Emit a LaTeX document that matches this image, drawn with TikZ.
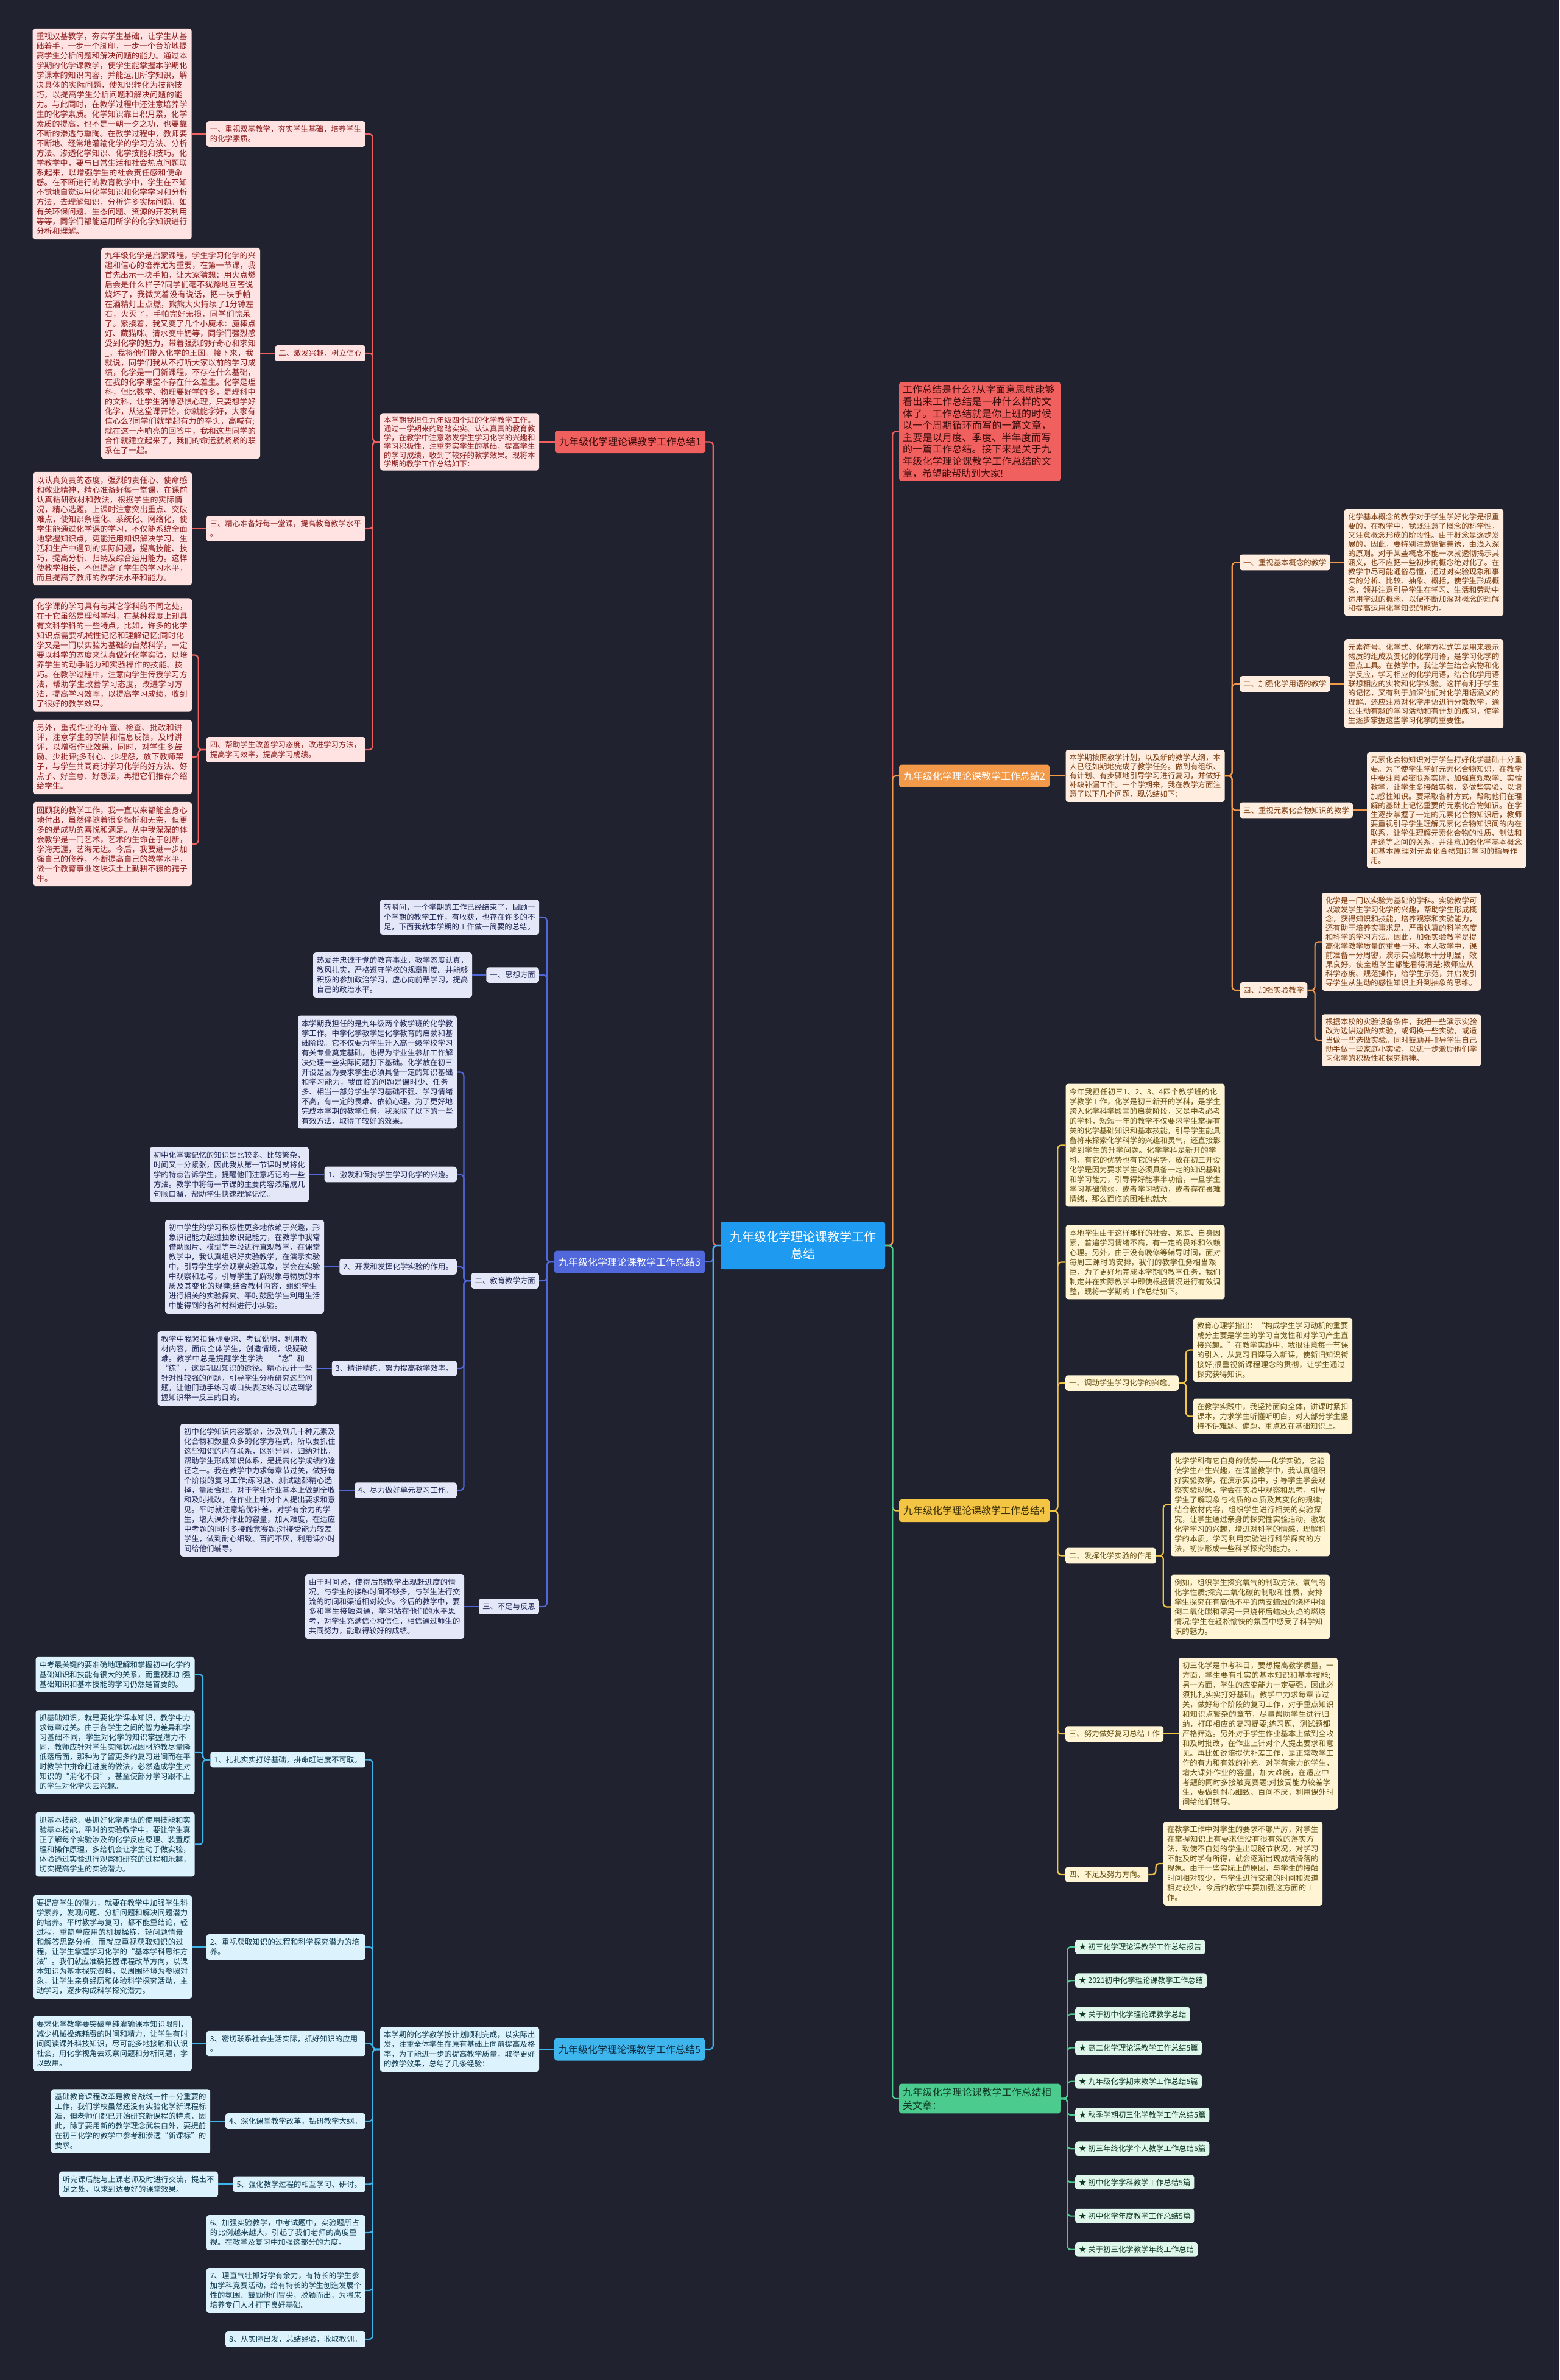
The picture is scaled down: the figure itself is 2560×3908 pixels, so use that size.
\documentclass[tikz,border=0pt]{standalone}
\usepackage{fontspec}
\setmainfont{Noto Sans CJK SC}
\XeTeXlinebreaklocale "zh"
\XeTeXlinebreakskip=0pt plus 1pt
\definecolor{bg}{HTML}{20232F}
\definecolor{rtmain}{HTML}{1E9AF0}
\definecolor{rdmain}{HTML}{F0605E}
\definecolor{rdpale}{HTML}{FFE2E2}
\definecolor{rdink}{HTML}{8C1D1D}
\definecolor{rdtitle}{HTML}{3A0B0B}
\definecolor{ogmain}{HTML}{F29A4A}
\definecolor{ogpale}{HTML}{FFEEDF}
\definecolor{ogink}{HTML}{7A3A0E}
\definecolor{blmain}{HTML}{5068DB}
\definecolor{blpale}{HTML}{E4E7F8}
\definecolor{blueink}{HTML}{1C2452}
\definecolor{yemain}{HTML}{F4C544}
\definecolor{yepale}{HTML}{FFF5D5}
\definecolor{yeink}{HTML}{654F10}
\definecolor{yetitle}{HTML}{3A2E05}
\definecolor{cymain}{HTML}{3FB5EE}
\definecolor{cypale}{HTML}{DCF3FD}
\definecolor{cyink}{HTML}{0F3A50}
\definecolor{cytitle}{HTML}{0B2A3A}
\definecolor{gnmain}{HTML}{4CCB8E}
\definecolor{gnpale}{HTML}{DFF6EA}
\definecolor{gnink}{HTML}{103A26}

\begin{document}
\begin{tikzpicture}[x=1pt,y=-1pt,
  box/.style={rounded corners=4pt,inner xsep=6pt,inner ysep=7pt,align=left},
  leaf/.style={box,text width=249pt,font=\fontsize{12.4}{16}\selectfont},
  sec/.style={box,font=\fontsize{12.4}{16}\selectfont},
  title/.style={rounded corners=4pt,minimum width=247pt,minimum height=37pt,inner sep=4pt,font=\fontsize{16}{20}\selectfont},
  ln/.style={line width=2.2pt,rounded corners=6pt},
  rdl/.style={leaf,fill=rdpale,text=rdink,font=\fontsize{13}{16}\selectfont},
  rds/.style={sec,fill=rdpale,text=rdink},
  ogl/.style={leaf,fill=ogpale,text=ogink,font=\fontsize{12.4}{15}\selectfont},
  ogs/.style={sec,fill=ogpale,text=ogink},
  bll/.style={leaf,fill=blpale,text=blueink},
  bls/.style={sec,fill=blpale,text=blueink},
  yel/.style={leaf,fill=yepale,text=yeink},
  yes/.style={sec,fill=yepale,text=yeink},
  cyl/.style={leaf,fill=cypale,text=cyink},
  cys/.style={sec,fill=cypale,text=cyink},
  gnitem/.style={box,inner ysep=6pt,fill=gnpale,text=gnink,font=\fontsize{12.4}{16}\selectfont}]

\fill[bg] (0,0) rectangle (2560,3908);
\useasboundingbox (0,0) rectangle (2560,3908);

% centre and branch titles
\node[box,fill=rtmain,text=white,align=center,minimum width=270pt,minimum height=78pt,font=\fontsize{20}{28}\selectfont] (root) at (1318,2045) {九年级化学理论课教学工作\\总结};
\node[title,fill=rdmain,text=rdtitle] (s1) at (1034.5,725.5) {九年级化学理论课教学工作总结1};
\node[title,fill=ogmain,text=white] (s2) at (1599.5,1274) {九年级化学理论课教学工作总结2};
\node[title,fill=blmain,text=white] (s3) at (1033.5,2072) {九年级化学理论课教学工作总结3};
\node[title,fill=yemain,text=yetitle] (s4) at (1599.5,2480.5) {九年级化学理论课教学工作总结4};
\node[title,fill=cymain,text=cytitle] (s5) at (1033.5,3365) {九年级化学理论课教学工作总结5};
\node[box,fill=rdmain,text=rdtitle,text width=253pt,inner ysep=5pt,font=\fontsize{16}{19.6}\selectfont] (ri) at (1608.5,708.5) {工作总结是什么?从字面意思就能够看出来工作总结是一种什么样的文体了。工作总结就是你上班的时候以一个周期循环而写的一篇文章，主要是以月度、季度、半年度而写的一篇工作总结。接下来是关于九年级化学理论课教学工作总结的文章，希望能帮助到大家!};
\node[box,fill=gnmain,text=gnink,text width=253pt,inner ysep=6pt,font=\fontsize{16}{22}\selectfont] (rel) at (1608.5,3446) {九年级化学理论课教学工作总结相关文章：};

\foreach \s/\c in {s1/rdmain,s3/blmain,s5/cymain}{\draw[ln,\c] (root.west) -- ++(-12,0) |- (\s.east);}
\foreach \s/\c in {ri/rdmain,s2/ogmain,s4/yemain,rel/gnmain}{\draw[ln,\c] (root.east) -- ++(12,0) |- (\s.west);}

% branch 1
\node[rdl,font=\fontsize{12.4}{14.5}\selectfont,inner ysep=5pt] (r0) at (754.5,725.5) {本学期我担任九年级四个班的化学教学工作。通过一学期来的踏踏实实、认认真真的教育教学，在教学中注意激发学生学习化学的兴趣和学习积极性，注重夯实学生的基础，提高学生的学习成绩，收到了较好的教学效果。现将本学期的教学工作总结如下：};
\node[rds,text width=249pt,anchor=east] (r1) at (600,220) {一、重视双基教学，夯实学生基础，培养学生的化学素质。};
\node[rdl] (r1a) at (184,220) {重视双基教学，夯实学生基础，让学生从基础着手，一步一个脚印，一步一个台阶地提高学生分析问题和解决问题的能力。通过本学期的化学课教学，使学生能掌握本学期化学课本的知识内容，并能运用所学知识，解决具体的实际问题，使知识转化为技能技巧，以提高学生分析问题和解决问题的能力。与此同时，在教学过程中还注意培养学生的化学素质。化学知识靠日积月累，化学素质的提高，也不是一朝一夕之功，也要靠不断的渗透与熏陶。在教学过程中，教师要不断地、经常地灌输化学的学习方法、分析方法、渗透化学知识、化学技能和技巧。化学教学中，要与日常生活和社会热点问题联系起来，以增强学生的社会责任感和使命感。在不断进行的教育教学中，学生在不知不觉地自觉运用化学知识和化学学习和分析方法，去理解知识，分析许多实际问题。如有关环保问题、生态问题、资源的开发利用等等，同学们都能运用所学的化学知识进行分析和理解。};
\node[rds,anchor=east] (r2) at (600,580) {二、激发兴趣，树立信心};
\node[rdl] (r2a) at (296.5,580) {九年级化学是启蒙课程，学生学习化学的兴趣和信心的培养尤为重要，在第一节课，我首先出示一块手帕，让大家猜想：用火点燃后会是什么样子?同学们毫不犹豫地回答说烧坏了，我微笑着没有说话，把一块手帕在酒精灯上点燃，熊熊大火持续了1分钟左右，火灭了，手帕完好无损，同学们惊呆了。紧接着，我又变了几个小魔术：魔棒点灯、藏猫咪、清水变牛奶等，同学们强烈感受到化学的魅力，带着强烈的好奇心和求知\_，我将他们带入化学的王国。接下来，我就说，同学们我从不打听大家以前的学习成绩，化学是一门新课程，不存在什么基础，在我的化学课堂不存在什么差生。化学是理科，但比数学、物理要好学的多，是理科中的文科，让学生消除恐惧心理，只要想学好化学，从这堂课开始，你就能学好，大家有信心么?同学们就举起有力的拳头，高喊有;就在这一声响亮的回答中，我和这些同学的合作就建立起来了，我们的命运就紧紧的联系在了一起。};
\node[rds,text width=249pt,anchor=east] (r3) at (600,868) {三、精心准备好每一堂课，提高教育教学水平\\。};
\node[rdl] (r3a) at (184.5,868) {以认真负责的态度，强烈的责任心、使命感和敬业精神，精心准备好每一堂课，在课前认真钻研教材和教法，根据学生的实际情况，精心选题，上课时注意突出重点、突破难点，使知识条理化、系统化、网络化，使学生能通过化学课的学习，不仅能系统全面地掌握知识点，更能运用知识解决学习、生活和生产中遇到的实际问题，提高技能、技巧，提高分析、归纳及综合运用能力。这样使教学相长，不但提高了学生的学习水平，而且提高了教师的教学法水平和能力。};
\node[rds,text width=249pt,anchor=east] (r4) at (600,1231) {四、帮助学生改善学习态度，改进学习方法，提高学习效率，提高学习成绩。};
\node[rdl] (r4a) at (184.5,1075.5) {化学课的学习具有与其它学科的不同之处，在于它虽然是理科学科，在某种程度上却具有文科学科的一些特点，比如，许多的化学知识点需要机械性记忆和理解记忆;同时化学又是一门以实验为基础的自然科学，一定要以科学的态度来认真做好化学实验，以培养学生的动手能力和实验操作的技能、技巧。在教学过程中，注意向学生传授学习方法，帮助学生改善学习态度，改进学习方法，提高学习效率，以提高学习成绩，收到了很好的教学效果。};
\node[rdl] (r4b) at (184.5,1243) {另外，重视作业的布置、检查、批改和讲评，注意学生的学情和信息反馈，及时讲评，以增强作业效果。同时，对学生多鼓励、少批评;多耐心、少埋怨，放下教师架子，与学生共同商讨学习化学的好方法、好点子、好主意、好想法，再把它们推荐介绍给学生。};
\node[rdl] (r4c) at (184.5,1386) {回顾我的教学工作，我一直以来都能全身心地付出，虽然伴随着很多挫折和无奈，但更多的是成功的喜悦和满足。从中我深深的体会教学是一门艺术，艺术的生命在于创新，学海无涯，艺海无边。今后，我要进一步加强自己的修养，不断提高自己的教学水平，做一个教育事业这块沃土上勤耕不辍的孺子牛。};

\draw[ln,rdmain] (s1.west) -- (r0.east);
\foreach \c in {r1,r2,r3,r4}{\draw[ln,rdmain] (r0.west) -- ++(-12,0) |- (\c.east);}
\foreach \p/\c in {r1/r1a,r2/r2a,r3/r3a}{\draw[ln,rdmain] (\p.west) -- (\c.east);}
\foreach \c in {r4a,r4b,r4c}{\draw[ln,rdmain] (r4.west) -- ++(-13,0) |- (\c.east);}

% branch 2
\node[ogl] (o0) at (1880,1274) {本学期按照教学计划，以及新的教学大纲，本人已经如期地完成了教学任务。做到有组织、有计划、有步骤地引导学习进行复习，并做好补缺补漏工作。一个学期来，我在教学方面注意了以下几个问题，现总结如下：};
\node[ogs,anchor=west] (o1) at (2035,923.5) {一、重视基本概念的教学};
\node[ogl] (o1a) at (2337.5,923.5) {化学基本概念的教学对于学生学好化学是很重要的，在教学中，我既注意了概念的科学性，又注意概念形成的阶段性。由于概念是逐步发展的，因此，要特别注意循循善诱，由浅入深的原则。对于某些概念不能一次就透彻揭示其涵义，也不应把一些初步的概念绝对化了。在教学中尽可能通俗易懂，通过对实验现象和事实的分析、比较、抽象、概括，使学生形成概念，领并注意引导学生在学习、生活和劳动中运用学过的概念，以便不断加深对概念的理解和提高运用化学知识的能力。};
\node[ogs,anchor=west] (o2) at (2035,1123) {二、加强化学用语的教学};
\node[ogl] (o2a) at (2337.5,1123) {元素符号、化学式、化学方程式等是用来表示物质的组成及变化的化学用语，是学习化学的重点工具。在教学中，我让学生结合实物和化学反应，学习相应的化学用语，结合化学用语联想相应的实物和化学实验。这样有利于学生的记忆，又有利于加深他们对化学用语涵义的理解。还应注意对化学用语进行分散教学，通过生动有趣的学习活动和有计划的练习，使学生逐步掌握这些学习化学的重要性。};
\node[ogs,anchor=west] (o3) at (2035,1330.5) {三、重视元素化合物知识的教学};
\node[ogl] (o3a) at (2374.5,1330.5) {元素化合物知识对于学生打好化学基础十分重要。为了使学生学好元素化合物知识，在教学中要注意紧密联系实际，加强直观教学、实验教学，让学生多接触实物，多做些实验，以增加感性知识。要采取各种方式，帮助他们在理解的基础上记忆重要的元素化合物知识。在学生逐步掌握了一定的元素化合物知识后，教师要重视引导学生理解元素化合物知识间的内在联系，让学生理解元素化合物的性质、制法和用途等之间的关系，并注意加强化学基本概念和基本原理对元素化合物知识学习的指导作用。};
\node[ogs,anchor=west] (o4) at (2035,1626) {四、加强实验教学};
\node[ogl] (o4a) at (2300.5,1546.5) {化学是一门以实验为基础的学科。实验教学可以激发学生学习化学的兴趣，帮助学生形成概念，获得知识和技能，培养观察和实验能力，还有助于培养实事求是、严肃认真的科学态度和科学的学习方法。因此，加强实验教学是提高化学教学质量的重要一环。本人教学中，课前准备十分周密，演示实验现象十分明显，效果良好，使全班学生都能看得清楚;教师应从科学态度、规范操作，给学生示范，并启发引导学生从生动的感性知识上升到抽象的思维。};
\node[ogl] (o4b) at (2300.5,1708) {根据本校的实验设备条件，我把一些演示实验改为边讲边做的实验，或调换一些实验，或适当做一些选做实验。同时鼓励并指导学生自己动手做一些家庭小实验，以进一步激励他们学习化学的积极性和探究精神。};

\draw[ln,ogmain] (s2.east) -- (o0.west);
\foreach \c in {o1,o2,o3,o4}{\draw[ln,ogmain] (o0.east) -- ++(12,0) |- (\c.west);}
\foreach \p/\c in {o1/o1a,o2/o2a,o3/o3a}{\draw[ln,ogmain] (\p.east) -- (\c.west);}
\foreach \c in {o4a,o4b}{\draw[ln,ogmain] (o4.east) -- ++(12,0) |- (\c.west);}

% branch 3
\node[bll] (b0) at (754.5,1506) {转瞬间，一个学期的工作已经结束了，回顾一个学期的教学工作，有收获，也存在许多的不足，下面我就本学期的工作做一简要的总结。};
\node[bls,anchor=east] (b1) at (885,1601) {一、思想方面};
\node[bll] (b1a) at (644.5,1601) {热爱并忠诚于党的教育事业，教学态度认真，教风扎实，严格遵守学校的规章制度。并能够积极的参加政治学习，虚心向前辈学习，提高自己的政治水平。};
\node[bls,anchor=east] (b2) at (885,2103) {二、教育教学方面};
\node[bll] (b20) at (619.5,1760.5) {本学期我担任的是九年级两个教学班的化学教学工作。中学化学教学是化学教育的启蒙和基础阶段。它不仅要为学生升入高一级学校学习有关专业奠定基础，也得为毕业生参加工作解决处理一些实际问题打下基础。化学放在初三开设是因为要求学生必须具备一定的知识基础和学习能力，我面临的问题是课时少、任务多、相当一部分学生学习基础不强、学习情绪不高，有一定的畏难、依赖心理。为了更好地完成本学期的教学任务，我采取了以下的一些有效方法，取得了较好的效果。};
\node[bls,anchor=east] (b21) at (750,1928.5) {1、激发和保持学生学习化学的兴趣。};
\node[bll] (b21a) at (376.5,1928.5) {初中化学需记忆的知识是比较多、比较繁杂，时间又十分紧张，因此我从第一节课时就将化学的特点告诉学生，提醒他们注意巧记的一些方法。教学中将每一节课的主要内容浓缩成几句顺口溜，帮助学生快速理解记忆。};
\node[bls,anchor=east] (b22) at (750,2080) {2、开发和发挥化学实验的作用。};
\node[bll] (b22a) at (401.5,2080) {初中学生的学习积极性更多地依赖于兴趣，形象识记能力超过抽象识记能力，在教学中我常借助图片、模型等手段进行直观教学，在课堂教学中，我认真组织好实验教学，在演示实验中，引导学生学会观察实验现象，学会在实验中观察和思考，引导学生了解现象与物质的本质及其变化的规律;结合教材内容，组织学生进行相关的实验探究。平时鼓励学生利用生活中能得到的各种材料进行小实验。};
\node[bls,anchor=east] (b23) at (750,2247) {3、精讲精练，努力提高教学效率。};
\node[bll] (b23a) at (389,2247) {教学中我紧扣课标要求、考试说明，利用教材内容，面向全体学生，创造情境，设疑破难。教学中总是提醒学生学法-----“念”和“练”，这是巩固知识的途径。精心设计一些针对性较强的问题，引导学生分析研究这些问题，让他们动手练习或口头表达练习以达到掌握知识举一反三的目的。};
\node[bls,anchor=east] (b24) at (750,2447) {4、尽力做好单元复习工作。};
\node[bll] (b24a) at (426.5,2447) {初中化学知识内容繁杂，涉及到几十种元素及化合物和数量众多的化学方程式，所以要抓住这些知识的内在联系，区别异同，归纳对比，帮助学生形成知识体系，是提高化学成绩的途径之一。我在教学中力求每章节过关，做好每个阶段的复习工作;练习题、测试题都精心选择，量质合理。对于学生作业基本上做到全收和及时批改，在作业上针对个人提出要求和意见。平时就注意培优补差，对学有余力的学生，增大课外作业的容量，加大难度，在适应中考题的同时多接触竞赛题;对接受能力较差学生，做到耐心细致、百问不厌，利用课外时间给他们辅导。};
\node[bls,anchor=east] (b3) at (885,2638) {三、不足与反思};
\node[bll] (b3a) at (631.5,2638) {由于时间紧，使得后期教学出现赶进度的情况。与学生的接触时间不够多，与学生进行交流的时间和渠道相对较少。今后的教学中，要多和学生接触沟通，学习站在他们的水平思考，对学生充满信心和信任，相信通过师生的共同努力，能取得较好的成绩。};

\foreach \c in {b0,b1,b2,b3}{\draw[ln,blmain] (s3.west) -- ++(-12,0) |- (\c.east);}
\foreach \c in {b20,b21,b22,b23,b24}{\draw[ln,blmain] (b2.west) -- ++(-12,0) |- (\c.east);}
\foreach \p/\c in {b1/b1a,b21/b21a,b22/b22a,b23/b23a,b24/b24a,b3/b3a}{\draw[ln,blmain] (\p.west) -- (\c.east);}

% branch 4
\node[yel] (y1) at (1880,1880.5) {今年我担任初三1、2、3、4四个教学班的化学教学工作，化学是初三新开的学科，是学生跨入化学科学殿堂的启蒙阶段，又是中考必考的学科，短短一年的教学不仅要求学生掌握有关的化学基础知识和基本技能，引导学生能具备将来探索化学科学的兴趣和灵气，还直接影响到学生的升学问题。化学学科是新开的学科，有它的优势也有它的劣势，放在初三开设化学是因为要求学生必须具备一定的知识基础和学习能力，引导得好能事半功倍，一旦学生学习基础薄弱，或者学习被动，或者存在畏难情绪，那么面临的困难也就大。};
\node[yel] (y2) at (1880,2072.5) {本地学生由于这样那样的社会、家庭、自身因素，普遍学习情绪不高，有一定的畏难和依赖心理。另外，由于没有晚修等辅导时间，面对每周三课时的安排，我们的教学任务相当艰巨，为了更好地完成本学期的教学任务，我们制定并在实际教学中即使根据情况进行有效调整，现将一学期的工作总结如下。};
\node[yes,anchor=west] (y3) at (1749,2271) {一、调动学生学习化学的兴趣。};
\node[yel] (y3a) at (2089.5,2216.5) {教育心理学指出：“构成学生学习动机的重要成分主要是学生的学习自觉性和对学习产生直接兴趣。”在教学实践中，我很注意每一节课的引入，从复习旧课导入新课，使新旧知识衔接好;很重视新课程理念的贯彻，让学生通过探究获得知识。};
\node[yel] (y3b) at (2089.5,2325.5) {在教学实践中，我坚持面向全体，讲课时紧扣课本，力求学生听懂听明白，对大部分学生坚持不讲难题、偏题，重点放在基础知识上。};
\node[yes,anchor=west] (y4) at (1749,2554.5) {二、发挥化学实验的作用};
\node[yel] (y4a) at (2052.5,2470.5) {化学学科有它自身的优势——化学实验，它能使学生产生兴趣，在课堂教学中，我认真组织好实验教学，在演示实验中，引导学生学会观察实验现象，学会在实验中观察和思考，引导学生了解现象与物质的本质及其变化的规律;结合教材内容，组织学生进行相关的实验探究，让学生通过亲身的探究性实验活动，激发化学学习的兴趣，增进对科学的情感，理解科学的本质，学习利用实验进行科学探究的方法，初步形成一些科学探究的能力。、};
\node[yel] (y4b) at (2052.5,2638.5) {例如，组织学生探究氧气的制取方法、氧气的化学性质;探究二氧化碳的制取和性质，安排学生探究在有高低不平的两支蜡烛的烧杯中倾倒二氧化碳和罩另一只烧杯后蜡烛火焰的燃烧情况;学生在轻松愉快的氛围中感受了科学知识的魅力。};
\node[yes,anchor=west] (y5) at (1749,2847) {三、努力做好复习总结工作};
\node[yel] (y5a) at (2065.5,2847) {初三化学是中考科目，要想提高教学质量，一方面，学生要有扎实的基本知识和基本技能;另一方面，学生的应变能力一定要强。因此必须扎扎实实打好基础，教学中力求每章节过关，做好每个阶段的复习工作，对于重点知识和知识点繁杂的章节，尽量帮助学生进行归纳，打印相应的复习提要;练习题、测试题都严格筛选。另外对于学生作业基本上做到全收和及时批改，在作业上针对个人提出要求和意见。再比如说培提优补差工作，是正常教学工作的有力和有效的补充，对学有余力的学生，增大课外作业的容量，加大难度，在适应中考题的同时多接触竞赛题;对接受能力较差学生，要做到耐心细致、百问不厌，利用课外时间给他们辅导。};
\node[yes,anchor=west] (y6) at (1749,3078) {四、不足及努力方向。};
\node[yel] (y6a) at (2040.5,3060) {在教学工作中对学生的要求不够严厉，对学生在掌握知识上有要求但没有很有效的落实方法，致使不自觉的学生出现脱节状况，对学习不能及时学有所得，就会逐渐出现成绩滑落的现象。由于一些实际上的原因，与学生的接触时间相对较少，与学生进行交流的时间和渠道相对较少，今后的教学中要加强这方面的工作。};

\foreach \c in {y1,y2,y3,y4,y5,y6}{\draw[ln,yemain] (s4.east) -- ++(13,0) |- (\c.west);}
\foreach \p/\c in {y3/y3a,y3/y3b,y4/y4a,y4/y4b,y6/y6a}{\draw[ln,yemain] (\p.east) -- ++(12,0) |- (\c.west);}
\draw[ln,yemain] (y5.east) -- (y5a.west);

% branch 5
\node[cyl] (c0) at (754.5,3365) {本学期的化学教学按计划顺利完成，以实际出发，注重全体学生在原有基础上向前提高及格率，为了能进一步的提高教学质量，取得更好的教学效果，总结了几条经验：};
\node[cys,anchor=east] (c1) at (600,2889.5) {1、扎扎实实打好基础，拼命赶进度不可取。};
\node[cyl] (c1a) at (189,2749.5) {中考最关键的要准确地理解和掌握初中化学的基础知识和技能有很大的关系，而重视和加强基础知识和基本技能的学习仍然是首要的。};
\node[cyl] (c1b) at (189,2877) {抓基础知识，就是要化学课本知识，教学中力求每章过关。由于各学生之间的智力差异和学习基础不同，学生对化学的知识掌握潜力不同，教师应针对学生实际状况因材施教尽量降低落后面，那种为了留更多的复习进间而在平时教学中拼命赶进度的做法，必然造成学生对知识的“消化不良”，甚至使部分学习跟不上的学生对化学失去兴趣。};
\node[cyl] (c1c) at (189,3028.5) {抓基本技能，要抓好化学用语的使用技能和实验基本技能。平时的实验教学中，要让学生真正了解每个实验涉及的化学反应原理、装置原理和操作原理，多给机会让学生动手做实验，体验透过实验进行观察和研究的过程和乐趣，切实提高学生的实验潜力。};
\node[cys,text width=249pt,anchor=east] (c2) at (600,3197) {2、重视获取知识的过程和科学探究潜力的培养。};
\node[cyl] (c2a) at (184.5,3197) {要提高学生的潜力，就要在教学中加强学生科学素养，发现问题、分析问题和解决问题潜力的培养。平时教学与复习，都不能重结论，轻过程，重简单应用的机械操练，轻问题情景和解答思路分析。而就应重视获取知识的过程，让学生掌握学习化学的“基本学科思维方法”。我们就应准确把握课程改革方向，以课本知识为基本探究资料，以周围环境为参照对象，让学生亲身经历和体验科学探究活动，主动学习，逐步构成科学探究潜力。};
\node[cys,text width=249pt,anchor=east] (c3) at (600,3355.5) {3、密切联系社会生活实际，抓好知识的应用\\。};
\node[cyl] (c3a) at (184.5,3355.5) {要求化学教学要突破单纯灌输课本知识限制，减少机械操练耗费的时间和精力，让学生有时间阅读课外科技知识，尽可能多地接触和认识社会，用化学视角去观察问题和分析问题，学以致用。};
\node[cys,anchor=east] (c4) at (600,3483) {4、深化课堂教学改革，钻研教学大纲。};
\node[cyl] (c4a) at (214.5,3483) {基础教育课程改革是教育战线一件十分重要的工作，我们学校虽然还没有实验化学新课程标准，但老师们都已开始研究新课程的特点，因此，除了要用新的教学理念武装自外，要提前在初三化学的教学中参考和渗透“新课标”的要求。};
\node[cys,anchor=east] (c5) at (600,3586.5) {5、强化教学过程的相互学习、研讨。};
\node[cyl] (c5a) at (227.5,3586.5) {听完课后能与上课老师及时进行交流，提出不足之处，以求到达要好的课堂效果。};
\node[cys,text width=249pt,anchor=east] (c6) at (600,3666) {6、加强实验教学，中考试题中，实验题所占的比例越来越大，引起了我们老师的高度重视。在教学及复习中加强这部分的力度。};
\node[cys,text width=249pt,anchor=east] (c7) at (600,3761) {7、理直气壮抓好学有余力，有特长的学生参加学科竞赛活动，给有特长的学生创造发展个性的氛围、鼓励他们冒尖，脱颖而出，为将来培养专门人才打下良好基础。};
\node[cys,anchor=east] (c8) at (600,3841) {8、从实际出发，总结经验，收取教训。};

\draw[ln,cymain] (s5.west) -- (c0.east);
\foreach \c in {c1,c2,c3,c4,c5,c6,c7,c8}{\draw[ln,cymain] (c0.west) -- ++(-12,0) |- (\c.east);}
\foreach \c in {c1a,c1b,c1c}{\draw[ln,cymain] (c1.west) -- ++(-12,0) |- (\c.east);}
\foreach \p/\c in {c2/c2a,c3/c3a,c4/c4a,c5/c5a}{\draw[ln,cymain] (\p.west) -- (\c.east);}

% related articles
\foreach \i/\t in {0/初三化学理论课教学工作总结报告,1/2021初中化学理论课教学工作总结,2/关于初中化学理论课教学总结,3/高二化学理论课教学工作总结5篇,4/九年级化学期末教学工作总结5篇,5/秋季学期初三化学教学工作总结5篇,6/初三年终化学个人教学工作总结5篇,7/初中化学学科教学工作总结5篇,8/初中化学年度教学工作总结5篇,9/关于初三化学教学年终工作总结}{
  \node[gnitem,anchor=west] (rel\i) at (1765,3197+55.2*\i) {★ \t};
  \draw[ln,gnmain] (rel.east) -- ++(11,0) |- (rel\i.west);
}
\end{tikzpicture}
\end{document}
